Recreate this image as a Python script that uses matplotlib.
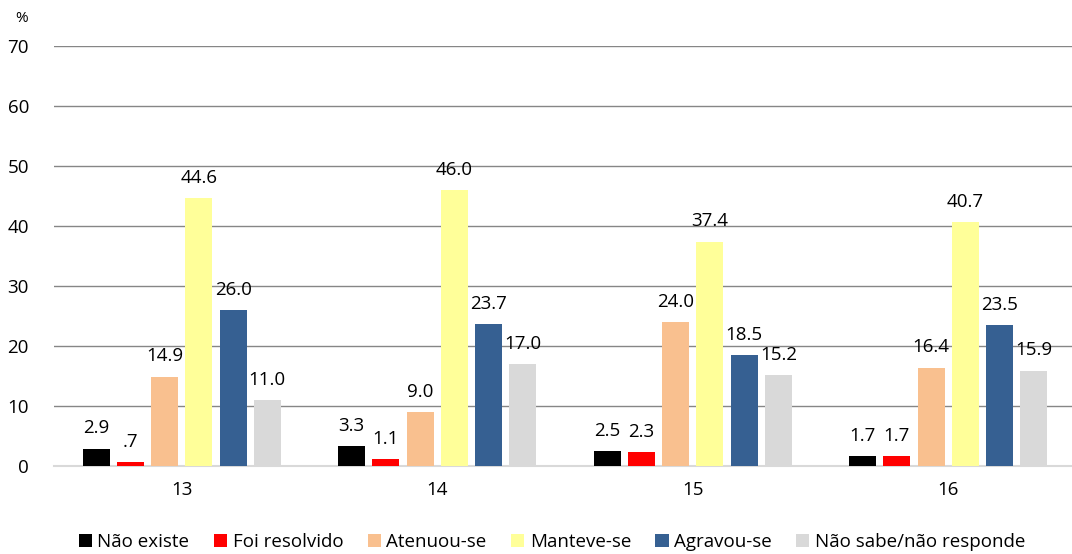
import numpy as np
import matplotlib
matplotlib.use("Agg")
import matplotlib.pyplot as plt

plt.rcParams['font.family'] = ['Open Sans', 'DejaVu Sans']

groups = ['13', '14', '15', '16']
series = ['Não existe', 'Foi resolvido', 'Atenuou-se', 'Manteve-se', 'Agravou-se', 'Não sabe/não responde']
colors = ['#000000', '#ff0000', '#f9c08f', '#ffff99', '#366092', '#d9d9d9']
values = [
    [2.9, 3.3, 2.5, 1.7],
    [0.7, 1.1, 2.3, 1.7],
    [14.9, 9.0, 24.0, 16.4],
    [44.6, 46.0, 37.4, 40.7],
    [26.0, 23.7, 18.5, 23.5],
    [11.0, 17.0, 15.2, 15.9],
]
labels = [
    ['2.9', '3.3', '2.5', '1.7'],
    ['.7', '1.1', '2.3', '1.7'],
    ['14.9', '9.0', '24.0', '16.4'],
    ['44.6', '46.0', '37.4', '40.7'],
    ['26.0', '23.7', '18.5', '23.5'],
    ['11.0', '17.0', '15.2', '15.9'],
]

fig = plt.figure(figsize=(10.72, 5.54), dpi=100)
ax = fig.add_axes([54 / 1072, 1 - 466 / 554, 1 - 54 / 1072, 420 / 554])

x = np.arange(len(groups))
step = 0.134
width = 0.105
for i, (name, col) in enumerate(zip(series, colors)):
    pos = x + (i - 2.5) * step
    bars = ax.bar(pos, values[i], width, color=col, label=name, zorder=3)
    for b, lab in zip(bars, labels[i]):
        ax.annotate(lab, (b.get_x() + b.get_width() / 2, b.get_height()),
                    xytext=(0, 8), textcoords='offset points',
                    ha='center', va='bottom', fontsize=13.5)

ax.set_xlim(-0.5, 3.5 - 4 / 256)
ax.set_ylim(0, 70)
ax.set_yticks(range(0, 71, 10))
ax.yaxis.grid(True, color='#868686', linewidth=1, zorder=0)
ax.set_axisbelow(True)
ax.set_xticks(x)
ax.set_xticklabels(groups)
ax.tick_params(axis='both', length=0, labelsize=13.5)
ax.tick_params(axis='x', pad=11)
ax.tick_params(axis='y', pad=18)
for s in ['top', 'right', 'left']:
    ax.spines[s].set_visible(False)
ax.spines['bottom'].set_color('#d9d9d9')
ax.spines['bottom'].set_linewidth(1.5)

fig.text(22 / 1072, 1 - 18 / 554, '%', ha='center', va='center', fontsize=11)

fig.legend(loc='lower center', bbox_to_anchor=(0.515, -0.025), ncol=6, frameon=False,
           fontsize=13.5, handlelength=0.7, handleheight=0.7, handletextpad=0.3,
           columnspacing=1.3)

fig.savefig('out.png', dpi=100)
